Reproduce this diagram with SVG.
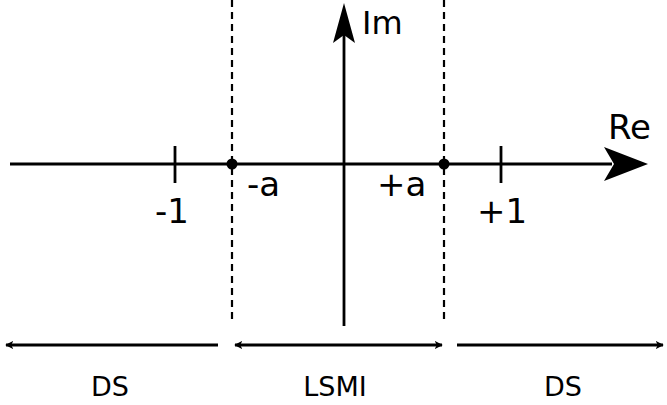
<svg xmlns="http://www.w3.org/2000/svg" width="667" height="405" viewBox="0 0 667 405">
<style>
.ax{stroke:#000;stroke-width:2.8;fill:none}
.dash{stroke:#000;stroke-width:2.2;stroke-dasharray:7,5;fill:none}
.t{font-family:"DejaVu Sans",Verdana,sans-serif;fill:#000}
.big{font-size:34px}
.sm{font-size:27px}
</style>
<defs>
<marker id="sh" viewBox="0 0 10 10" refX="9" refY="5" markerWidth="8" markerHeight="8" markerUnits="userSpaceOnUse" orient="auto-start-reverse">
<path d="M0,0 L10,5 L0,10 L2.5,5 Z" fill="#000"/>
</marker>
</defs>
<rect width="667" height="405" fill="#fff"/>
<g id="connectors">
<line class="ax" x1="10" y1="164" x2="612" y2="164"/>
<path d="M648,164 L604,147 L614,164 L604,181 Z" fill="#000"/>
<line class="ax" x1="344" y1="326" x2="344" y2="35"/>
<path d="M344,3 L333,43 L344,35 L355,43 Z" fill="#000"/>
<line class="dash" x1="232" y1="0" x2="232" y2="324"/>
<line class="dash" x1="444" y1="0" x2="444" y2="324"/>
<line class="ax" x1="175" y1="146" x2="175" y2="183"/>
<line class="ax" x1="501" y1="146" x2="501" y2="183"/>
<line class="ax" x1="218" y1="345" x2="6" y2="345" marker-end="url(#sh)"/>
<line class="ax" x1="235" y1="345" x2="442" y2="345" marker-start="url(#sh)" marker-end="url(#sh)"/>
<line class="ax" x1="457" y1="345" x2="663" y2="345" marker-end="url(#sh)"/>
</g>
<g id="pt-minus-a"><circle cx="232" cy="164" r="5.5" fill="#000"/></g>
<g id="pt-plus-a"><circle cx="444" cy="164" r="5.5" fill="#000"/></g>
<g id="labels">
<text class="t" x="362" y="34" font-size="32">Im</text>
<text class="t big" x="608" y="139">Re</text>
<text class="t big" x="155" y="223">-1</text>
<text class="t big" x="477" y="223">+1</text>
<text class="t big" x="247" y="196">-a</text>
<text class="t big" x="377" y="196">+a</text>
<text class="t sm" x="110" y="396" text-anchor="middle">DS</text>
<text class="t sm" x="335" y="396" text-anchor="middle">LSMI</text>
<text class="t sm" x="563" y="396" text-anchor="middle">DS</text>
</g>
</svg>
